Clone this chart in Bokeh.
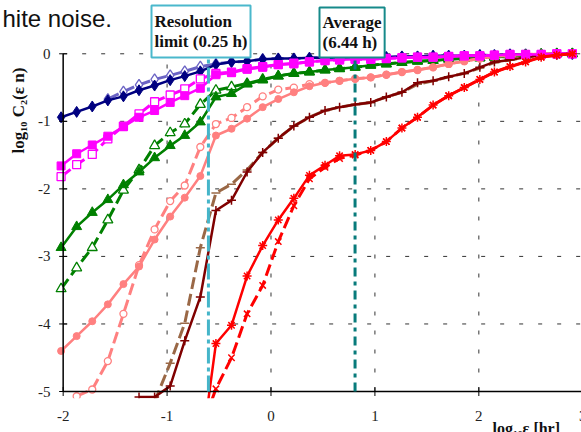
import math
import numpy as np
from bokeh.plotting import figure
from bokeh.models import Label, LabelSet, ColumnDataSource, BoxAnnotation
from bokeh.embed import file_html
from bokeh.resources import INLINE

# ---------------- data ----------------
X_LOG_EPS = [-2.02, -1.87, -1.72, -1.57, -1.42, -1.27, -1.12, -0.97, -0.83, -0.68,
             -0.53, -0.38, -0.23, -0.08, 0.07, 0.22, 0.37, 0.52, 0.66, 0.81,
             0.96, 1.11, 1.26, 1.41, 1.56, 1.71, 1.86, 2.01, 2.15, 2.30,
             2.45, 2.60, 2.75, 2.90]

NAVY_SOLID = [-0.94, -0.86, -0.78, -0.69, -0.63, -0.54, -0.47, -0.39, -0.33, -0.26,
              -0.16, -0.12, -0.11, -0.08, -0.07, -0.07, -0.06, -0.06, -0.06, -0.06,
              -0.05, -0.05, -0.04, -0.04, -0.03, -0.03, -0.03, -0.02, -0.02, -0.01,
              -0.01, -0.01, 0.0, 0.0]
NAVY_DASHED = [None, None, None, -0.67, -0.56, -0.46, -0.38, -0.32, -0.26, -0.19,
               -0.15, -0.12, -0.11, -0.08, -0.07, -0.07, -0.06, -0.06, -0.06, -0.06,
               -0.05, -0.05, -0.04, -0.04, -0.03, -0.03, -0.03, -0.02, -0.02, -0.01,
               -0.01, -0.01, 0.0, 0.0]

MAGENTA_SOLID = [-1.66, -1.48, -1.35, -1.22, -1.08, -0.94, -0.84, -0.72, -0.62, -0.51,
                 -0.31, -0.28, -0.23, -0.20, -0.16, -0.15, -0.12, -0.10, -0.09, -0.08,
                 -0.08, -0.07, -0.06, -0.05, -0.05, -0.04, -0.03, -0.03, -0.02, -0.01,
                 -0.01, -0.01, 0.0, 0.0]
MAGENTA_DASHED = [-1.82, -1.64, -1.49, -1.26, -1.07, -0.89, -0.71, -0.61, -0.52, -0.37,
                  -0.29, -0.27, -0.22, -0.19, -0.16, -0.14, -0.12, -0.10, -0.09, -0.08,
                  -0.08, -0.07, -0.06, -0.05, -0.05, -0.04, -0.03, -0.03, -0.02, -0.01,
                  -0.01, -0.01, 0.0, 0.0]

GREEN_SOLID = [-2.87, -2.56, -2.35, -2.16, -1.94, -1.75, -1.54, -1.36, -1.21, -1.01,
               -0.64, -0.59, -0.45, -0.39, -0.33, -0.29, -0.27, -0.24, -0.22, -0.20,
               -0.17, -0.15, -0.13, -0.11, -0.10, -0.08, -0.07, -0.06, -0.05, -0.04,
               -0.02, -0.01, 0.0, 0.0]
GREEN_DASHED = [-3.48, -3.17, -2.87, -2.46, -2.02, -1.72, -1.36, -1.17, -1.04, -0.75,
                -0.54, -0.49, -0.44, -0.38, -0.33, -0.29, -0.27, -0.24, -0.22, -0.20,
                -0.17, -0.15, -0.13, -0.11, -0.10, -0.08, -0.07, -0.06, -0.05, -0.04,
                -0.02, -0.01, 0.0, 0.0]

SALMON_SOLID = [-4.40, -4.18, -3.96, -3.71, -3.41, -3.15, -2.75, -2.41, -2.13, -1.81,
                -1.21, -1.11, -0.96, -0.79, -0.67, -0.57, -0.48, -0.43, -0.40, -0.37,
                -0.35, -0.31, -0.27, -0.24, -0.20, -0.15, -0.11, -0.07, -0.04, -0.03,
                -0.01, 0.0, 0.0, 0.0]
SALMON_DASHED = [None, -5.07, -4.97, -4.55, -3.85, -3.13, -2.60, -2.18, -1.95, -1.38,
                 -1.04, -0.95, -0.79, -0.63, -0.53, -0.50, -0.45, -0.43, -0.40, -0.37,
                 -0.35, -0.31, -0.27, -0.24, -0.20, -0.15, -0.11, -0.07, -0.04, -0.03,
                 -0.01, 0.0, 0.0, 0.0]

DARKRED_SOLID = [None, None, None, None, None, -5.08, -5.08, -4.92, -4.25, -3.60,
                 -2.32, -2.17, -1.75, -1.46, -1.25, -1.07, -0.94, -0.84, -0.79, -0.75,
                 -0.72, -0.64, -0.57, -0.43, -0.40, -0.34, -0.29, -0.20, -0.12, -0.09,
                 -0.05, -0.02, 0.0, 0.0]
BROWN_DASHED = [None, None, None, None, None, None, -5.15, -4.58, -3.99, -2.87,
                -2.06, -1.93, -1.72, -1.46, -1.25, -1.07, -0.94, -0.84, -0.79, -0.75,
                -0.72, -0.64, -0.57, -0.45, -0.40, -0.34, -0.29, -0.21, -0.13, -0.09,
                -0.05, -0.02, 0.0, 0.0]

RED_SOLID = [None, None, None, None, None, None, None, None, None, -6.0,
             -4.29, -4.02, -3.29, -2.84, -2.46, -2.14, -1.80, -1.65, -1.51, -1.49,
             -1.43, -1.30, -1.10, -0.94, -0.76, -0.62, -0.50, -0.38, -0.27, -0.19,
             -0.12, -0.05, -0.02, 0.0]
RED_DASHED = [None, None, None, None, None, None, None, None, None, -5.6,
              -4.96, -4.50, -3.85, -3.43, -2.78, -2.25, -1.85, -1.68, -1.55, -1.50,
              -1.43, -1.30, -1.10, -0.94, -0.76, -0.62, -0.50, -0.38, -0.27, -0.19,
              -0.12, -0.05, -0.02, 0.0]

RESOLUTION_H = 0.25
AVERAGE_H = 6.44
X_TICKS = [-2, -1, 0, 1, 2, 3]
X_TICK_LABELS = ["-2", "-1", "0", "1", "2", "3"]
Y_TICKS = [-5, -4, -3, -2, -1, 0]
Y_TICK_LABELS = ["-5", "-4", "-3", "-2", "-1", "0"]
X_MIN, X_MAX = -2, 3
Y_MIN, Y_MAX = -5, 0

# ---------------- figure: frame covers the whole canvas ----------------
W, H = 581, 432
XR = (-2.603, 2.988)
YR = (-5.607, 0.789)
PX_PER_X = W / (XR[1] - XR[0])
PX_PER_Y = H / (YR[1] - YR[0])

def px_to_x(px):
    return XR[0] + px / PX_PER_X

def py_to_y(py):
    return YR[1] - py / PX_PER_Y

p = figure(width=W, height=H, x_range=XR, y_range=YR,
           x_axis_type=None, y_axis_type=None, min_border=0,
           output_backend="svg", toolbar_location=None)
p.outline_line_color = None
p.background_fill_color = "white"
p.border_fill_color = "white"

# dashed grid lines (inside the plot area only)
vx = [t for t in X_TICKS if X_MIN < t < X_MAX]
p.segment(x0=vx, y0=[Y_MIN] * len(vx), x1=vx, y1=[Y_MAX] * len(vx),
          line_color="#333333", line_width=1, line_dash="4 15")
hy = [t for t in Y_TICKS if t > Y_MIN]
p.segment(x0=[X_MIN] * len(hy), y0=hy, x1=[X_MAX] * len(hy), y1=hy,
          line_color="#333333", line_width=1, line_dash="4 15")

series = [
    (NAVY_DASHED, "#6b63c4", "diamond", 11, True),
    (NAVY_SOLID, "#000080", "diamond", 11, False),
    (GREEN_DASHED, "#008000", "triangle", 10, True),
    (GREEN_SOLID, "#008000", "triangle", 10, False),
    (SALMON_DASHED, "#ff8080", "circle", 7, True),
    (SALMON_SOLID, "#ff8080", "circle", 7, False),
    (BROWN_DASHED, "#9a6846", "dash", 9, True),
    (DARKRED_SOLID, "#800000", "cross", 9, False),
    (MAGENTA_DASHED, "#ff00ff", "square", 8, True),
    (MAGENTA_SOLID, "#ff00ff", "square", 8, False),
    (RED_DASHED, "#ff0000", "x", 9, True),
    (RED_SOLID, "#ff0000", "asterisk", 9, False),
]

line_markers = {"dash", "cross", "x", "asterisk"}
for ys, color, marker, size, dashed in series:
    src = ColumnDataSource(dict(x=X_LOG_EPS, y=np.array(ys, dtype=float)))
    if dashed:
        p.line("x", "y", source=src, line_color=color, line_width=3, line_dash="12 5")
    else:
        p.line("x", "y", source=src, line_color=color, line_width=2.5)
    if marker in line_markers:
        p.scatter("x", "y", source=src, marker=marker, size=size, line_color=color, line_width=1.5)
    elif dashed:
        p.scatter("x", "y", source=src, marker=marker, size=size, line_color=color,
                  fill_color="white", line_width=1.3)
    else:
        p.scatter("x", "y", source=src, marker=marker, size=size, line_color=color,
                  fill_color=color, line_width=1)

# axis lines and tick marks
p.segment(x0=[X_MIN], y0=[Y_MIN], x1=[X_MIN], y1=[Y_MAX], line_color="black", line_width=1.5)
p.segment(x0=[X_MIN], y0=[Y_MIN], x1=[X_MAX], y1=[Y_MIN], line_color="black", line_width=1.5)
p.scatter(x=[X_MIN] * len(Y_TICKS), y=Y_TICKS, marker="dash", size=8, line_color="black", line_width=1)
p.scatter(x=[t for t in X_TICKS if t < X_MAX], y=[Y_MIN] * (len(X_TICKS) - 1), marker="dash",
          angle=math.pi / 2, size=9, line_color="black", line_width=1)

# reference vertical lines
xres = math.log10(RESOLUTION_H)
xavg = math.log10(AVERAGE_H)
p.segment(x0=[xres], y0=[Y_MIN], x1=[xres], y1=[Y_MAX], line_color="#45b5c9",
          line_width=3, line_dash="16 4 4 4")
p.segment(x0=[xavg], y0=[Y_MIN], x1=[xavg], y1=[py_to_y(49)], line_color="#087b7b",
          line_width=3, line_dash="9 5 4 5")

# white mask below the plot area (clips the curves like the plot area does)
p.add_layout(BoxAnnotation(left=XR[0] - 1, right=XR[1] + 1, bottom=YR[0] - 1, top=-5.1,
                           fill_color="white", fill_alpha=1.0, line_color=None))

# tick labels
xt = ColumnDataSource(dict(x=X_TICKS, y=[py_to_y(415)] * len(X_TICKS), t=X_TICK_LABELS))
p.add_layout(LabelSet(x="x", y="y", text="t", source=xt, text_font="Liberation Serif",
                      text_font_size="15px", text_align="center", text_baseline="middle",
                      text_color="#222222"))
# y labels: right edge at px 50 -> centre from an estimated text width
y_label_x = [px_to_x(50 - 0.5 * (7.5 * len(t.lstrip("-")) + 5.0 * t.startswith("-")))
             for t in Y_TICK_LABELS]
yt = ColumnDataSource(dict(x=y_label_x, y=Y_TICKS, t=Y_TICK_LABELS))
p.add_layout(LabelSet(x="x", y="y", text="t", source=yt, text_font="Liberation Serif",
                      text_font_size="15px", text_align="center", text_baseline="middle",
                      text_color="#222222"))

# boxed annotations (anchor = top-left of the box)
p.add_layout(Label(x=px_to_x(151), y=py_to_y(5), text="Resolution\nlimit (0.25 h)",
                   text_font="Liberation Serif", text_font_style="bold", text_font_size="17px",
                   text_line_height=1.1,
                   text_align="left", text_baseline="top", text_color="#111111",
                   border_line_color="#4ab8cc", border_line_width=2,
                   background_fill_color="white", padding=(3, 6)))
p.add_layout(Label(x=px_to_x(319), y=py_to_y(7), text="Average\n(6.44 h)",
                   text_font="Liberation Serif", text_font_style="bold", text_font_size="17px",
                   text_line_height=1.1,
                   text_align="left", text_baseline="top", text_color="#111111",
                   border_line_color="#168a8a", border_line_width=2,
                   background_fill_color="white", padding=(3, 5)))

# title fragment
p.add_layout(Label(x=px_to_x(2), y=py_to_y(4), text="hite noise.", text_font="Liberation Sans",
                   text_font_size="24px", text_align="left", text_baseline="top",
                   text_color="#111111"))

# axis titles
p.add_layout(Label(x=px_to_x(18), y=py_to_y(108), text="log₁₀ C₂(ε  n)", angle=math.pi / 2,
                   text_font="Liberation Serif", text_font_style="bold", text_font_size="17px",
                   text_align="center", text_baseline="middle", text_color="#111111"))
p.add_layout(Label(x=px_to_x(492), y=py_to_y(419), text="log₁₀ε [hr]", text_font="Liberation Serif",
                   text_font_style="bold", text_font_size="16px", text_align="left",
                   text_baseline="top", text_color="#111111"))

open("out.html", "w").write(file_html(p, INLINE))
